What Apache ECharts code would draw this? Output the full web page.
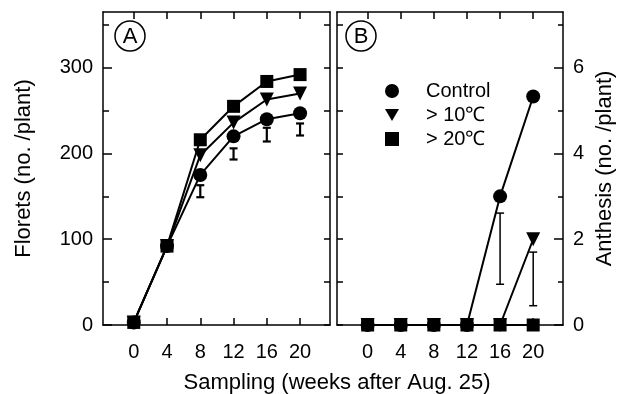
<!DOCTYPE html>
<html>
<head>
<meta charset="utf-8">
<script src="https://cdn.jsdelivr.net/npm/echarts@6/dist/echarts.min.js"></script>
<style>html,body{margin:0;padding:0;background:#fff;}#c{width:632px;height:394px;}</style>
</head>
<body>
<div id="c"></div>
<script>
const weeks = [0, 4, 8, 12, 16, 20];
const seriesNames = ['Control', '> 10℃', '> 20℃'];
const floretsControl = [3, 92, 175, 220, 240, 247];
const florets10 = [3, 92, 198, 236, 263, 270];
const florets20 = [3, 92, 216, 255, 284, 292];
const floretsErrWeeks = [8, 12, 16, 20];
const floretsErrLow = [149, 193, 214, 221];
const floretsErrHigh = [163, 206, 230, 235];
const anthControl = [0, 0, 0, 0, 3.0, 5.33];
const anth10 = [0, 0, 0, 0, 0, 2.0];
const anth20 = [0, 0, 0, 0, 0, 0];
const anthErrWeeks = [16, 20];
const anthErrLow = [0.95, 0.45];
const anthErrHigh = [2.61, 1.70];
const xTicks = [0, 4, 8, 12, 16, 20];
const floretTicks = [0, 100, 200, 300];
const floretMinor = [50, 150, 250, 350];
const floretAll = [0, 50, 100, 150, 200, 250, 300, 350];
const anthTicks = [0, 2, 4, 6];
const anthMinor = [1, 3, 5, 7];
const anthAll = [0, 1, 2, 3, 4, 5, 6, 7];

const FONT = 'Liberation Sans, Arial, sans-serif';
const pairs = (xs, ys) => xs.map((x, i) => [x, ys[i]]);
const triples = (xs, lo, hi) => xs.map((x, i) => [x, lo[i], hi[i]]);
const invTri = 'path://M0,0L10,0L5,8.7Z';

function xAx(grid, pos, labels) {
  return {
    type: 'value', gridIndex: grid, position: pos, min: -3.7, max: 23.6,
    axisLine: {show: true, onZero: false, lineStyle: {color: '#000', width: 1.5}},
    axisTick: {show: true, inside: true, length: 7, customValues: xTicks, lineStyle: {color: '#000', width: 1.5}},
    axisLabel: {show: labels, customValues: xTicks, margin: 17, fontSize: 20, color: '#000', fontFamily: FONT},
    splitLine: {show: false}
  };
}
function yAx(grid, pos, min, max, ticks, len, labels, line, labelVals) {
  return {
    type: 'value', gridIndex: grid, position: pos, min: min, max: max,
    axisLine: {show: line, onZero: false, lineStyle: {color: '#000', width: 1.5}},
    axisTick: {show: true, inside: true, length: len, customValues: ticks, lineStyle: {color: '#000', width: 1.5}},
    axisLabel: {show: labels, customValues: labelVals || ticks, margin: 10, fontSize: 20, color: '#000', fontFamily: FONT},
    splitLine: {show: false}
  };
}

function errRender(lw) {
  return function (params, api) {
    const x = api.value(0), lo = api.value(1), hi = api.value(2);
    const a = api.coord([x, lo]), b = api.coord([x, hi]);
    const w = 4;
    const st = {stroke: '#000', lineWidth: lw};
    return {type: 'group', children: [
      {type: 'line', shape: {x1: a[0], y1: a[1], x2: b[0], y2: b[1]}, style: st},
      {type: 'line', shape: {x1: a[0] - w, y1: a[1], x2: a[0] + w, y2: a[1]}, style: st},
      {type: 'line', shape: {x1: b[0] - w, y1: b[1], x2: b[0] + w, y2: b[1]}, style: st}
    ]};
  };
}

function lineS(name, xi, yi, data, sym, size, rot) {
  return {
    type: 'line', name: name, xAxisIndex: xi, yAxisIndex: yi, data: data,
    symbol: sym, symbolSize: size, symbolRotate: rot || 0, showSymbol: true,
    lineStyle: {color: '#000', width: 2}, itemStyle: {color: '#000', borderWidth: 0},
    emphasis: {disabled: true}
  };
}

const chart = echarts.init(document.getElementById('c'), null, {renderer: 'canvas'});
chart.setOption({
  animation: false,
  backgroundColor: '#fff',
  grid: [
    {left: 103, top: 12, width: 227, height: 313},
    {left: 337, top: 12, width: 226, height: 313}
  ],
  xAxis: [xAx(0, 'bottom', true), xAx(0, 'top', false), xAx(1, 'bottom', true), xAx(1, 'top', false)],
  yAxis: [
    Object.assign(yAx(0, 'left', 0, 365, floretTicks, 9, true, true), {
      name: 'Florets (no. /plant)', nameLocation: 'middle', nameGap: 68, nameRotate: 90,
      nameTextStyle: {fontSize: 22, color: '#000', fontFamily: FONT}
    }),
    yAx(0, 'left', 0, 365, floretMinor, 6, false, false),
    yAx(0, 'right', 0, 365, floretAll, 6, false, true),
    yAx(1, 'left', 0, 7.3, anthAll, 6, false, true),
    Object.assign(yAx(1, 'right', 0, 7.3, anthTicks, 9, true, true), {
      name: 'Anthesis (no. /plant)', nameLocation: 'middle', nameGap: 31, nameRotate: 90,
      nameTextStyle: {fontSize: 22, color: '#000', fontFamily: FONT, verticalAlign: 'top'}
    }),
    yAx(1, 'right', 0, 7.3, anthMinor, 5, false, false)
  ],
  legend: {
    orient: 'vertical', left: 380, top: 76, itemWidth: 14, itemHeight: 14, itemGap: 4,
    selectedMode: false,
    textStyle: {fontSize: 20, color: '#000', fontFamily: FONT, padding: [0, 0, 0, 22]},
    data: [
      {name: seriesNames[0], icon: 'circle'},
      {name: seriesNames[1], icon: invTri},
      {name: seriesNames[2], icon: 'rect', itemStyle: {}}
    ]
  },
  graphic: [
    {type: 'circle', shape: {cx: 130, cy: 36, r: 15}, style: {fill: 'none', stroke: '#000', lineWidth: 1.5}},
    {type: 'text', x: 130, y: 37, style: {text: 'A', fontSize: 22, fontFamily: FONT, fill: '#000', align: 'center', verticalAlign: 'middle'}},
    {type: 'circle', shape: {cx: 361, cy: 36, r: 15}, style: {fill: 'none', stroke: '#000', lineWidth: 1.5}},
    {type: 'text', x: 361, y: 37, style: {text: 'B', fontSize: 22, fontFamily: FONT, fill: '#000', align: 'center', verticalAlign: 'middle'}},
    {type: 'text', x: 337, y: 383, style: {text: 'Sampling (weeks after Aug. 25)', fontSize: 22, fontFamily: FONT, fill: '#000', align: 'center', verticalAlign: 'middle'}}
  ],
  series: [
    lineS(seriesNames[0], 0, 0, pairs(weeks, floretsControl), 'circle', 14),
    lineS(seriesNames[1], 0, 0, pairs(weeks, florets10), 'triangle', 14, 180),
    lineS(seriesNames[2], 0, 0, pairs(weeks, florets20), 'rect', 13),
    lineS(seriesNames[0], 2, 4, pairs(weeks, anthControl), 'circle', 14),
    lineS(seriesNames[1], 2, 4, pairs(weeks, anth10), 'triangle', 14, 180),
    lineS(seriesNames[2], 2, 4, pairs(weeks, anth20), 'rect', 13),
    {type: 'custom', xAxisIndex: 0, yAxisIndex: 0, data: triples(floretsErrWeeks, floretsErrLow, floretsErrHigh),
     encode: {x: 0, y: [1, 2]}, renderItem: errRender(2.2), silent: true},
    {type: 'custom', xAxisIndex: 2, yAxisIndex: 4, data: triples(anthErrWeeks, anthErrLow, anthErrHigh),
     encode: {x: 0, y: [1, 2]}, renderItem: errRender(1.5), silent: true}
  ]
});
</script>
</body>
</html>
